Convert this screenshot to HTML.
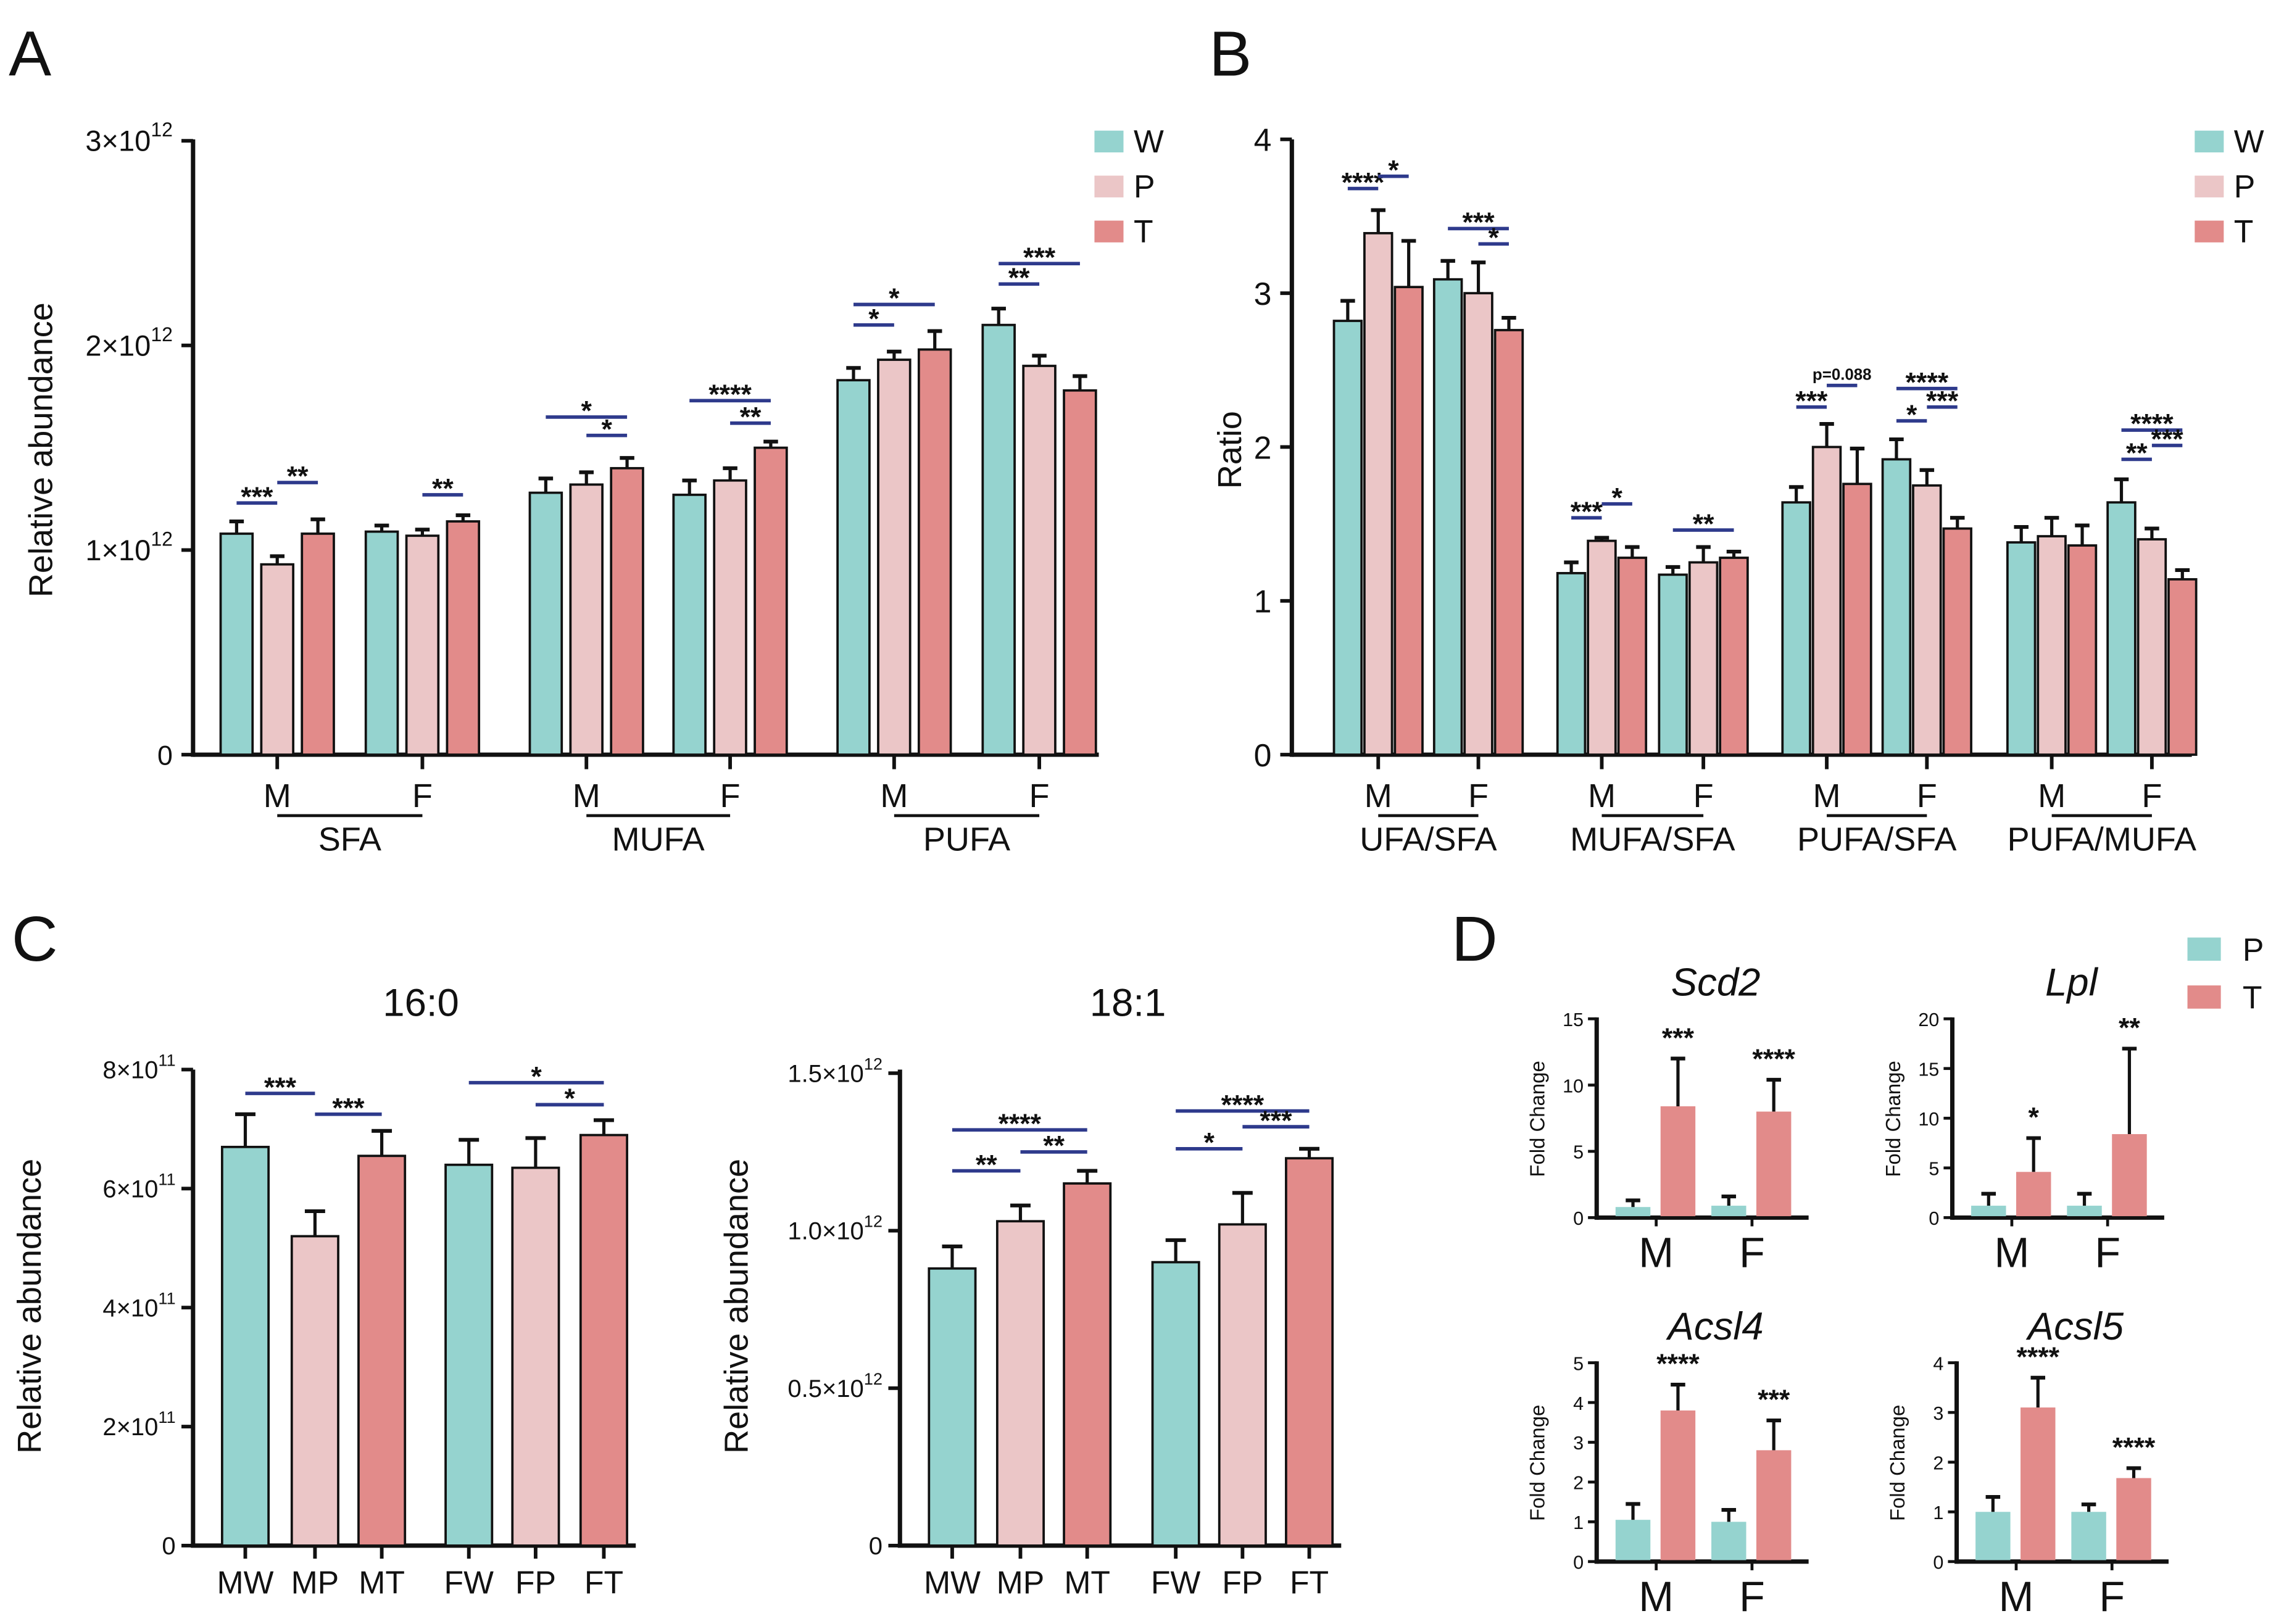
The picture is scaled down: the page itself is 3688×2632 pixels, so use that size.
<!DOCTYPE html>
<html><head><meta charset="utf-8"><style>
html,body{margin:0;padding:0;background:#fff}
svg{display:block;font-family:"Liberation Sans",Arial,sans-serif}
</style></head><body>
<svg id="fig" width="3688" height="2632" viewBox="0 0 1568 1119" xmlns="http://www.w3.org/2000/svg"></svg>
<script>
// ---- Panel A data (x1e12) ----
const aGroups=["SFA","MUFA","PUFA"];
const aW=[1.08,1.09,1.28,1.27,1.83,2.10];
const aP=[0.93,1.07,1.32,1.34,1.93,1.90];
const aT=[1.08,1.14,1.40,1.50,1.98,1.78];
const aWe=[0.06,0.03,0.07,0.07,0.06,0.08];
const aPe=[0.04,0.03,0.06,0.06,0.04,0.05];
const aTe=[0.07,0.03,0.05,0.03,0.09,0.07];
const aTicks=[0,1,2,3];
// sig: [subgroup, barA, barB, yValue, label]
const aSig=[[0,0,1,1.23,"***"],[0,1,2,1.33,"**"],[1,1,2,1.27,"**"],[2,0,2,1.65,"*"],[2,1,2,1.56,"*"],[3,0,2,1.73,"****"],[3,1,2,1.62,"**"],[4,0,1,2.10,"*"],[4,0,2,2.20,"*"],[5,0,1,2.30,"**"],[5,0,2,2.40,"***"]];
// ---- Panel B data ----
const bGroups=["UFA/SFA","MUFA/SFA","PUFA/SFA","PUFA/MUFA"];
const bW=[2.82,3.09,1.18,1.17,1.64,1.92,1.38,1.64];
const bP=[3.39,3.00,1.39,1.25,2.00,1.75,1.42,1.40];
const bT=[3.04,2.76,1.28,1.28,1.76,1.47,1.36,1.14];
const bWe=[0.13,0.12,0.07,0.05,0.10,0.13,0.10,0.15];
const bPe=[0.15,0.20,0.02,0.10,0.15,0.10,0.12,0.07];
const bTe=[0.30,0.08,0.07,0.04,0.23,0.07,0.13,0.06];
const bTicks=[0,1,2,3,4];
const bSig=[[0,0,1,3.68,"****"],[0,1,2,3.76,"*"],[1,0,2,3.42,"***"],[1,1,2,3.32,"*"],[2,0,1,1.54,"***"],[2,1,2,1.63,"*"],[3,0,2,1.46,"**"],[4,0,1,2.26,"***"],[4,1,2,2.40,"p=0.088"],[5,0,1,2.17,"*"],[5,0,2,2.38,"****"],[5,1,2,2.26,"***"],[7,0,1,1.92,"**"],[7,0,2,2.11,"****"],[7,1,2,2.01,"***"]];
// ---- Panel C data ----
const cCats=["MW","MP","MT","FW","FP","FT"];
const c1Vals=[6.7,5.2,6.55,6.4,6.35,6.9];
const c1Err=[0.55,0.42,0.42,0.42,0.5,0.25];
const c1Ticks=[0,2,4,6,8];
const c1Sig=[[0,1,7.6,"***"],[1,2,7.25,"***"],[3,5,7.78,"*"],[4,5,7.41,"*"]];
const c2Vals=[0.88,1.03,1.15,0.90,1.02,1.23];
const c2Err=[0.07,0.05,0.04,0.07,0.10,0.03];
const c2Ticks=[0,0.5,1.0,1.5];
const c2Sig=[[0,2,1.32,"****"],[0,1,1.19,"**"],[1,2,1.25,"**"],[3,5,1.38,"****"],[3,4,1.26,"*"],[4,5,1.33,"***"]];
// ---- Panel D data ----
const dGenes=["Scd2","Lpl","Acsl4","Acsl5"];
const dP=[[0.8,0.9],[1.2,1.2],[1.05,1.0],[1.0,1.0]];
const dT=[[8.4,8.0],[4.6,8.4],[3.8,2.8],[3.1,1.68]];
const dPe=[[0.5,0.7],[1.2,1.2],[0.4,0.3],[0.3,0.15]];
const dTe=[[3.6,2.4],[3.4,8.6],[0.65,0.75],[0.6,0.2]];
const dStars=[["***","****"],["*","**"],["****","***"],["****","****"]];
const dMax=[15,20,5,4];
const dTicks=[[0,5,10,15],[0,5,10,15,20],[0,1,2,3,4,5],[0,1,2,3,4]];

const svg=document.getElementById('fig');
const NS="http://www.w3.org/2000/svg";
const TEAL="#95d3cf",PINK="#ebc6c7",RED="#e28b8a",NAVY="#2e3a8c";
function mk(tag,at,parent){const e=document.createElementNS(NS,tag);for(const k in at)e.setAttribute(k,at[k]);(parent||svg).appendChild(e);return e;}
function txt(x,y,s,size,anchor,parent,extra){const t=mk('text',Object.assign({x:x,y:y,'font-size':size,'text-anchor':anchor||'middle',fill:'#111'},extra||{}),parent);t.textContent=s;return t;}
function expLabel(x,y,m,e,parent,fs){fs=fs||17;const t=mk('text',{x:x,y:y,'font-size':fs,'text-anchor':'end',fill:'#111'},parent);
 const a=mk('tspan',{},t);a.textContent=m+"×10";const b=mk('tspan',{'font-size':fs*0.68,dy:-fs*0.5},t);b.textContent=e;return t;}
function bar(g,x,w,yTop,y0,fill,outline){const r=mk('rect',{x:x,y:yTop,width:w,height:y0-yTop,fill:fill,stroke:outline?'#111':'none','stroke-width':outline?1.6:0},g);
 return r;}
function err(g,xc,yTop,yErr,cap){mk('line',{x1:xc,x2:xc,y1:yTop,y2:yErr,stroke:'#111','stroke-width':2.2},g);mk('line',{x1:xc-cap,x2:xc+cap,y1:yErr,y2:yErr,stroke:'#111','stroke-width':2.6},g);}
function sig(g,x1,x2,y,label,small){mk('line',{x1:x1,x2:x2,y1:y,y2:y,stroke:NAVY,'stroke-width':2.4},g);
 txt((x1+x2)/2,small?y-4:y+2,label,small?11:19,'middle',g,{'font-weight':'bold'});}
function axisY(g,x,yTop,y0){mk('line',{x1:x,x2:x,y1:yTop-1,y2:y0+1.5,stroke:'#111','stroke-width':3},g);}
function axisX(g,x1,x2,y0){mk('line',{x1:x1,x2:x2,y1:y0,y2:y0,stroke:'#111','stroke-width':3},g);}
function letter(x,y,s){const t=txt(x,y,s,44,'start',svg);}
function legend(x,y,labels,cols,gap,tx,w,h){w=w||20;h=h||15;const g=mk('g',{});
 labels.forEach((l,i)=>{mk('rect',{x:x,y:y+i*gap,width:w,height:h,fill:cols[i]},g);txt(x+(tx||27),y+i*gap+h,l,22,'start',g);});}

// ---------- Panel A ----------
letter(6,52,"A");
(function(){
 const g=mk('g',{});
 const X0=133,Y0=520,S=141,BW=22;
 const y=v=>Y0-v*S;
 const subX=[152,252,365,464,577,677];
 axisY(g,X0,97,Y0);axisX(g,X0,757,Y0);
 aTicks.forEach(t=>{mk('line',{x1:X0-8,x2:X0,y1:y(t),y2:y(t),stroke:'#111','stroke-width':2.5},g);
  if(t===0)txt(X0-14,y(t)+7,"0",19,'end',g);else expLabel(X0-14,y(t)+7,t,"12",g,20);});
 const sets=[[aW,aWe,TEAL],[aP,aPe,PINK],[aT,aTe,RED]];
 subX.forEach((sx,i)=>{sets.forEach((s,j)=>{const bx=sx+j*28;bar(g,bx,BW,y(s[0][i]),Y0,s[2],true);err(g,bx+BW/2,y(s[0][i]),y(s[0][i]+s[1][i]),5);});
  const cx=sx+28+BW/2;mk('line',{x1:cx,x2:cx,y1:Y0,y2:Y0+10,stroke:'#111','stroke-width':2.5},g);
  txt(cx,Y0+36,i%2===0?"M":"F",23,'middle',g);});
 aGroups.forEach((name,k)=>{const a=subX[2*k]+28+BW/2,b=subX[2*k+1]+28+BW/2;mk('line',{x1:a,x2:b,y1:562,y2:562,stroke:'#111','stroke-width':2},g);
  const t=txt((a+b)/2,586,name,23,'middle',g);});
 aSig.forEach(s=>{const x1=subX[s[0]]+s[1]*28+BW/2,x2=subX[s[0]]+s[2]*28+BW/2;sig(g,x1,x2,y(s[3]),s[4]);});
 const yt=txt(36,310,"Relative abundance",23,'middle',g,{transform:'rotate(-90 36 310)'});
})();
legend(754,90,["W","P","T"],[TEAL,PINK,RED],31);

// ---------- Panel B ----------
letter(833,52,"B");
(function(){
 const g=mk('g',{});
 const X0=890,Y0=520,S=106,BW=19;
 const y=v=>Y0-v*S;
 const subX=[919,988,1073,1143,1228,1297,1383,1452];
 axisY(g,X0,97,Y0);axisX(g,X0,1510,Y0);
 bTicks.forEach(t=>{mk('line',{x1:X0-8,x2:X0,y1:y(t),y2:y(t),stroke:'#111','stroke-width':2.5},g);txt(X0-14,y(t)+8,String(t),22,'end',g);});
 const sets=[[bW,bWe,TEAL],[bP,bPe,PINK],[bT,bTe,RED]];
 subX.forEach((sx,i)=>{sets.forEach((s,j)=>{const bx=sx+j*21;bar(g,bx,BW,y(s[0][i]),Y0,s[2],true);err(g,bx+BW/2,y(s[0][i]),y(s[0][i]+s[1][i]),5);});
  const cx=sx+21+BW/2;mk('line',{x1:cx,x2:cx,y1:Y0,y2:Y0+10,stroke:'#111','stroke-width':2.5},g);
  txt(cx,Y0+36,i%2===0?"M":"F",23,'middle',g);});
 bGroups.forEach((name,k)=>{const a=subX[2*k]+21+BW/2,b=subX[2*k+1]+21+BW/2;mk('line',{x1:a,x2:b,y1:562,y2:562,stroke:'#111','stroke-width':2},g);
  const t=txt((a+b)/2,586,name,23,'middle',g);});
 bSig.forEach(s=>{const x1=subX[s[0]]+s[1]*21+BW/2,x2=subX[s[0]]+s[2]*21+BW/2;sig(g,x1,x2,y(s[3]),s[4],s[4].startsWith('p'));});
 const yt=txt(855,310,"Ratio",23,'middle',g,{transform:'rotate(-90 855 310)'});
})();
legend(1512,90,["W","P","T"],[TEAL,PINK,RED],31);

// ---------- Panel C ----------
letter(8,662,"C");
function panelC(name,title,X0,S,ticks,vals,errs,sigs,xs,exp,titleX){
 const g=mk('g',{});
 const Y0=1065,BW=32;const y=v=>Y0-v*S;
 txt(titleX,700,title,27,'middle',g);
 axisY(g,X0,738,Y0);axisX(g,X0,xs[5]+BW+6,Y0);
 ticks.forEach(t=>{mk('line',{x1:X0-8,x2:X0,y1:y(t),y2:y(t),stroke:'#111','stroke-width':2.5},g);
  if(t===0)txt(X0-12,y(t)+6,"0",17,'end',g);else expLabel(X0-12,y(t)+6,exp==="11"?t:t.toFixed(1),exp,g,17);});
 const cols=[TEAL,PINK,RED,TEAL,PINK,RED];
 xs.forEach((bx,i)=>{bar(g,bx,BW,y(vals[i]),Y0,cols[i],true);err(g,bx+BW/2,y(vals[i]),y(vals[i]+errs[i]),7);
  mk('line',{x1:bx+BW/2,x2:bx+BW/2,y1:Y0,y2:Y0+9,stroke:'#111','stroke-width':2.5},g);
  txt(bx+BW/2,Y0+33,cCats[i],22,'middle',g);});
 sigs.forEach(s=>sig(g,xs[s[0]]+BW/2,xs[s[1]]+BW/2,y(s[2]),s[3]));
 const ax=X0-105;const yt=txt(ax,900,"Relative abundance",23,'middle',g,{transform:`rotate(-90 ${ax} 900)`});
}
panelC('panel-c-16-0',"16:0",133,41,c1Ticks,c1Vals,c1Err,c1Sig,[153,201,247,307,353,400],"11",290);
panelC('panel-c-18-1',"18:1",620,217,c2Ticks,c2Vals,c2Err,c2Sig,[640,687,733,794,840,886],"12",777);

// ---------- Panel D ----------
letter(1000,662,"D");
legend(1507,646,["P","T"],[TEAL,RED],33,38,23,16);
(function(){
 const pos=[[1100,839],[1345,839],[1100,1076],[1348,1076]];
 dGenes.forEach((gene,k)=>{
  const g=mk('g',{});
  const X0=pos[k][0],Y0=pos[k][1],top=Y0-137,S=137/dMax[k],BW=24;const y=v=>Y0-v*S;
  txt(X0+82,top-16,gene,27,'middle',g,{'font-style':'italic'});
  axisY(g,X0,top,Y0);axisX(g,X0,X0+146,Y0);
  dTicks[k].forEach(t=>{mk('line',{x1:X0-6,x2:X0,y1:y(t),y2:y(t),stroke:'#111','stroke-width':2},g);txt(X0-9,y(t)+5,String(t),13,'end',g);});
  [0,1].forEach(s=>{const base=X0+13+s*66;
   bar(g,base,BW,y(dP[k][s]),Y0-1,TEAL,false);err(g,base+BW/2,y(dP[k][s]),y(dP[k][s]+dPe[k][s]),5);
   bar(g,base+31,BW,y(dT[k][s]),Y0-1,RED,false);err(g,base+31+BW/2,y(dT[k][s]),y(dT[k][s]+dTe[k][s]),5);
   txt(base+31+BW/2,y(dT[k][s]+dTe[k][s])-8,dStars[k][s],19,'middle',g,{'font-weight':'bold'});
   const cx=base+28;mk('line',{x1:cx,x2:cx,y1:Y0,y2:Y0+6,stroke:'#111','stroke-width':2},g);
   txt(cx,Y0+34,s===0?"M":"F",29,'middle',g);});
  const ax=X0-36,ay=Y0-68;txt(ax,ay,"Fold Change",14,'middle',g,{transform:`rotate(-90 ${ax} ${ay})`});
 });
})();
</script>
</body></html>
